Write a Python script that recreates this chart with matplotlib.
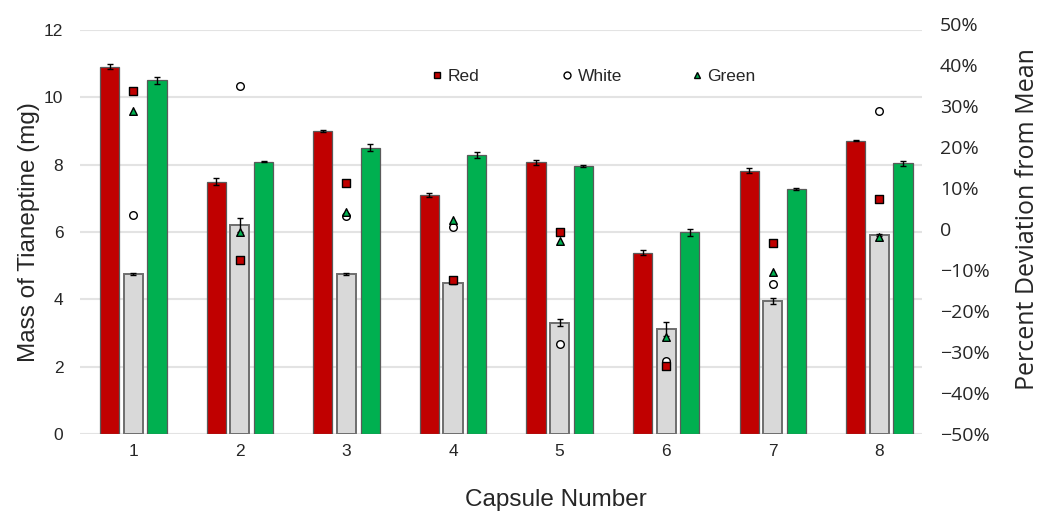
import numpy as np
import matplotlib
matplotlib.use('Agg')
import matplotlib.pyplot as plt
from matplotlib.lines import Line2D
from matplotlib.ticker import FuncFormatter

capsules = [1, 2, 3, 4, 5, 6, 7, 8]

# mass of tianeptine per capsule (mg), left axis
red_mass = [10.91, 7.49, 9.00, 7.10, 8.07, 5.39, 7.82, 8.71]
white_mass = [4.75, 6.21, 4.75, 4.50, 3.31, 3.11, 3.95, 5.91]
green_mass = [10.51, 8.09, 8.50, 8.29, 7.96, 5.99, 7.29, 8.04]
red_err = [0.08, 0.10, 0.03, 0.06, 0.07, 0.08, 0.08, 0.02]
white_err = [0.03, 0.20, 0.02, 0.03, 0.10, 0.21, 0.08, 0.04]
green_err = [0.10, 0.02, 0.10, 0.08, 0.02, 0.10, 0.03, 0.07]

# percent deviation from mean, right axis
red_dev = [33.7, -7.6, 11.1, -12.4, -0.7, -33.3, -3.5, 7.2]
white_dev = [3.4, 34.9, 3.2, 0.6, -28.1, -32.1, -13.5, 28.9]
green_dev = [28.9, -0.8, 4.1, 2.2, -2.9, -26.3, -10.6, -1.9]

RED = '#C00000'
WHITE = '#D9D9D9'
GREEN = '#00B050'

plt.rcParams['font.family'] = ['Liberation Sans', 'DejaVu Sans']

fig = plt.figure(figsize=(10.4, 5.15), dpi=100)
W, H = 1040, 515
ax = fig.add_axes([80 / W, (H - 434) / H, 842 / W, 404 / H])
ax2 = fig.add_axes([80 / W, (H - 434) / H, 842 / W, 410 / H], sharex=ax)

x = np.array(capsules, dtype=float)
bw = 0.18
off = 0.222

ax.bar(x - off, red_mass, bw, color=RED, edgecolor='#5a5a5a', linewidth=0.9, zorder=2)
ax.bar(x, white_mass, bw, color=WHITE, edgecolor='#6e6e6e', linewidth=1.4, zorder=2)
ax.bar(x + off, green_mass, bw, color=GREEN, edgecolor='#5a5a5a', linewidth=0.9, zorder=2)
ek = dict(fmt='none', ecolor='black', elinewidth=1, capsize=2.2, capthick=1, zorder=3)
ax.errorbar(x - off, red_mass, yerr=red_err, **ek)
ax.errorbar(x, white_mass, yerr=white_err, **ek)
ax.errorbar(x + off, green_mass, yerr=green_err, **ek)

ax.set_xlim(0.5, 8.4)
ax.set_ylim(0, 12)
ax.set_yticks(range(0, 13, 2))
ax.set_xticks(capsules)
ax.grid(axis='y', color='#e3e3e3', linewidth=1.5, zorder=0)
ax.set_axisbelow(True)
for s in ax.spines.values():
    s.set_visible(False)
ax.tick_params(axis='y', length=0, pad=12, labelsize=12.5, colors='#262626')
ax.tick_params(axis='x', length=0, pad=7, labelsize=12.5, colors='#262626')
ax.set_ylabel('Mass of Tianeptine (mg)', fontsize=17.5, color='#262626', labelpad=3)
ax.set_xlabel('Capsule Number', fontsize=17.5, color='#262626')
ax.xaxis.set_label_coords((556 - 80) / 842, -66 / 404)
ax.xaxis.label.set_va('center')

# deviation markers on the secondary axis
ax2.patch.set_visible(False)
for s in ax2.spines.values():
    s.set_visible(False)
ax2.scatter(x, white_dev, s=30, marker='o', facecolor='white', edgecolor='black', linewidth=1, zorder=4)
ax2.scatter(x, green_dev, s=30, marker='^', facecolor=GREEN, edgecolor='black', linewidth=1, zorder=5)
ax2.scatter(x, red_dev, s=30, marker='s', facecolor=RED, edgecolor='black', linewidth=1, zorder=6)
ax2.set_ylim(-50, 50)
ax2.set_yticks(range(-50, 51, 10))
ax2.yaxis.set_major_formatter(FuncFormatter(lambda v, p: '0' if v == 0 else f'{v:.0f}%'.replace('-', '\u2212')))
ax2.yaxis.tick_right()
ax2.yaxis.set_label_position('right')
ax2.tick_params(axis='y', length=0, pad=13, labelsize=14, colors='#262626')
for lab in ax2.get_yticklabels():
    lab.set_family(['Open Sans', 'DejaVu Sans'])
ax2.xaxis.set_visible(False)
ax2.set_ylabel('Percent Deviation from Mean', fontsize=18, color='#262626',
               family=['Open Sans', 'DejaVu Sans'])
ax2.yaxis.set_label_coords((1027 - 80) / 842, (434 - 219) / 410)
ax2.yaxis.label.set_va('center')

# legend entries, evenly spaced like the original
entries = [('Red', 's', RED), ('White', 'o', 'white'), ('Green', '^', GREEN)]
for i, (name, mk, fc) in enumerate(entries):
    h = Line2D([], [], linestyle='none', marker=mk, markersize=5, markerfacecolor=fc,
               markeredgecolor='black', markeredgewidth=1)
    lg = fig.legend([h], [name], loc='center left', bbox_to_anchor=((432 + i * 130) / W, 1 - 76 / H),
                    frameon=False, fontsize=12.5, handlelength=0.6, handletextpad=0.3,
                    borderpad=0, borderaxespad=0)
    for t in lg.get_texts():
        t.set_color('#262626')

fig.savefig('out.png', dpi=100)
